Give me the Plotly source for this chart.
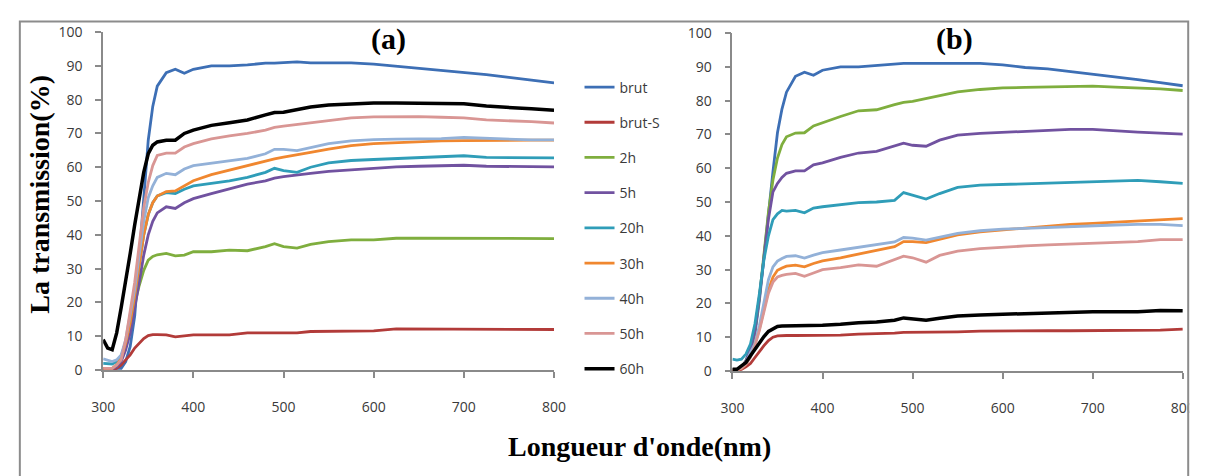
import plotly.graph_objects as go

WL = [300, 305, 310, 315, 320, 325, 330, 335, 340, 345, 350, 355, 360, 370, 380, 390, 400,
      420, 440, 460, 480, 490, 500, 515, 530, 550, 575, 600, 625, 650, 675, 700, 725, 750, 775, 800]

NAMES = ["brut", "brut-S", "2h", "5h", "20h", "30h", "40h", "50h", "60h"]
COLORS = ["#3d6fb5", "#b23b39", "#7fae3e", "#7152a0", "#2f9db8", "#f0872f", "#93b1d8", "#d99694", "#000000"]

# Panel (a)
A_BRUT = [0.5, 0.5, 0.5, 0.5, 0.5, 2.5, 7, 16, 33, 52, 68, 78, 84, 88, 89, 87.8, 89, 90, 90, 90.3, 90.8,
          90.8, 90.9, 91.2, 90.9, 90.9, 90.9, 90.5, 89.9, 89.2, 88.7, 88.1, 87.4, 86.6, 85.8, 85]
A_BRUTS = [0, 0, 0, 0.5, 1.5, 3, 4.5, 6.5, 8, 9.3, 10.2, 10.5, 10.5, 10.4, 9.8, 10.2, 10.4, 10.4, 10.4, 11, 11,
           11, 11, 11, 11.4, 11.4, 11.5, 11.6, 12.2, 12.2, 12.2, 12.2, 12.1, 12.1, 12, 12]
A_2H = [0, 0, 0.3, 1.5, 4, 8, 14, 20, 25, 29.5, 32.5, 33.6, 34.1, 34.5, 33.8, 34, 35, 35, 35.5, 35.3, 36.5,
        37.4, 36.5, 36.1, 37.2, 38, 38.5, 38.5, 39, 39, 39, 39, 39, 39, 38.8, 38.9]
A_5H = [0, 0, 0.3, 1, 2.5, 6, 11, 18, 26, 34, 40, 44, 46.5, 48.3, 47.8, 49.5, 50.7, 52.2, 53.5, 55, 56,
        56.8, 57.2, 57.8, 58.2, 58.8, 59.3, 59.7, 60.1, 60.3, 60.5, 60.6, 60.3, 60.2, 60.1, 60.1]
A_20H = [2, 1.8, 1.8, 2.5, 4, 8.5, 14.5, 22, 31, 40, 46, 49.5, 51.5, 52.5, 52.2, 53.5, 54.5, 55.2, 56, 57, 58.5,
         59.7, 59, 58.5, 60, 61.3, 62, 62.3, 62.6, 62.8, 63, 63.4, 62.9, 62.8, 62.8, 62.8]
A_30H = [0.5, 0.5, 0.5, 1.5, 3.5, 8, 14, 22, 31, 40, 46, 49.5, 51.5, 52.8, 53, 54.5, 56, 57.8, 59.2, 60.5, 62,
         62.5, 63, 63.8, 64.4, 65.4, 66.4, 67, 67.3, 67.7, 67.8, 67.9, 68, 68, 68, 68]
A_40H = [3.3, 2.8, 2.5, 3, 4.5, 9, 16, 24, 34, 44, 51, 54.5, 57, 58.2, 57.8, 59.5, 60.5, 61.2, 62, 62.6, 64,
         65.3, 65.3, 64.9, 65.8, 67, 67.8, 68.2, 68.3, 68.3, 68.5, 68.8, 68.5, 68.2, 68.1, 68.1]
A_50H = [0.5, 0.5, 0.5, 1.5, 3, 9, 17, 26, 37, 48, 55.5, 60.5, 63.5, 64.2, 64.2, 66, 67, 68.4, 69.3, 70, 71,
         71.8, 72.2, 72.7, 73.2, 73.8, 74.6, 74.9, 75, 75, 74.8, 74.6, 74, 73.8, 73.5, 73.1]
A_60H = [9, 6.5, 6, 11, 18.5, 26, 34.5, 43, 51.5, 58.5, 64, 66.5, 67.5, 68, 68, 70, 71, 72.4, 73.2, 74, 75.5,
         76.2, 76.3, 77, 77.8, 78.4, 78.8, 79, 79, 79, 79, 78.8, 78.1, 77.8, 77.3, 76.9]

# Panel (b)
B_BRUT = [0.5, 0.5, 1, 2.5, 6, 11, 21, 34, 46, 59, 70.5, 77.5, 82.5, 87.2, 88.4, 87.5, 89, 90, 90, 90.4, 90.9,
          91, 91, 91, 91, 91, 91, 90.6, 89.8, 89.4, 88.6, 87.9, 87.2, 86.2, 85.3, 84.4]
B_BRUTS = [0, 0.2, 0.5, 1.2, 2.2, 4, 5.8, 7.5, 9, 10, 10.4, 10.5, 10.5, 10.5, 10.5, 10.5, 10.5, 10.6, 10.9, 11, 11.2,
           11.4, 11.4, 11.5, 11.5, 11.6, 11.8, 11.9, 11.9, 11.9, 11.9, 11.9, 11.9, 11.9, 12.1, 12.4]
B_2H = [0.5, 0.5, 1, 3, 6.5, 12, 22, 34, 47, 56.5, 63, 67, 69.3, 70.4, 70.5, 72.5, 73.5, 75.3, 77, 77.3, 78.8,
        79.5, 79.8, 80.7, 81.5, 82.6, 83.3, 83.8, 83.9, 84, 84.3, 84.3, 84, 83.8, 83.5, 83]
B_5H = [0.3, 0.3, 1, 3, 6.5, 12, 22, 34, 45, 53, 55.5, 57.3, 58.5, 59.2, 59.2, 61, 61.6, 63.2, 64.5, 65, 66.5,
        67.4, 66.8, 66.5, 68.3, 69.8, 70.3, 70.6, 70.8, 71, 71.5, 71.5, 71, 70.7, 70.4, 70.1]
B_20H = [3.5, 3.2, 3.5, 5, 8, 14, 23, 33, 40, 44.8, 46.5, 47.5, 47.3, 47.5, 46.8, 48.2, 48.6, 49.2, 49.8, 50, 50.5,
         52.8, 52, 50.9, 52.5, 54.3, 55, 55.2, 55.4, 55.7, 55.8, 56.1, 56.4, 56.4, 56, 55.5]
B_30H = [0.3, 0.3, 0.8, 2, 4.5, 8, 12.5, 18, 24, 27.8, 29.8, 30.5, 31, 31.3, 30.8, 31.8, 32.6, 33.5, 34.6, 35.5, 36.8,
         38.3, 38.3, 38, 39, 40.3, 41.2, 41.8, 42.4, 43, 43.4, 43.7, 44.1, 44.4, 44.8, 45.1]
B_40H = [0.5, 0.5, 1, 2.5, 5.5, 8, 13.5, 20, 27, 30.8, 32.5, 33.3, 33.9, 34.1, 33.4, 34.3, 35, 35.8, 36.6, 37.2, 38.2,
         39.5, 39.3, 38.7, 39.6, 40.7, 41.5, 42, 42.2, 42.5, 42.7, 43, 43.2, 43.4, 43.4, 43]
B_50H = [0.3, 0.3, 0.8, 2, 4, 7.5, 12, 17.5, 23, 26.3, 27.8, 28.3, 28.6, 28.9, 28, 29, 30, 30.6, 31.4, 31, 33,
         34, 33.5, 32.2, 34.2, 35.5, 36.2, 36.7, 37, 37.3, 37.6, 37.8, 38.1, 38.3, 38.9, 38.9]
B_60H = [0.5, 0.5, 1.5, 2.5, 4.5, 6.5, 8.5, 10.2, 11.7, 12.6, 13.2, 13.3, 13.3, 13.3, 13.3, 13.4, 13.5, 13.8, 14.3, 14.5, 15,
         15.7, 15.4, 15, 15.6, 16.3, 16.6, 16.8, 17, 17.1, 17.4, 17.5, 17.5, 17.5, 17.9, 17.8]

X_TICKS = [300, 400, 500, 600, 700, 800]
Y_TICKS = [0, 10, 20, 30, 40, 50, 60, 70, 80, 90, 100]

PANEL_A = [A_BRUT, A_BRUTS, A_2H, A_5H, A_20H, A_30H, A_40H, A_50H, A_60H]
PANEL_B = [B_BRUT, B_BRUTS, B_2H, B_5H, B_20H, B_30H, B_40H, B_50H, B_60H]

W, H = 1210, 476

fig = go.Figure()
for i, (name, ys) in enumerate(zip(NAMES, PANEL_A)):
    fig.add_trace(go.Scatter(x=WL, y=ys, name=name, mode="lines", legendgroup=name,
                             line=dict(color=COLORS[i], width=3.5 if name == "60h" else 2.8),
                             xaxis="x", yaxis="y"))
for i, (name, ys) in enumerate(zip(NAMES, PANEL_B)):
    fig.add_trace(go.Scatter(x=WL, y=ys, name=name, mode="lines", legendgroup=name, showlegend=False,
                             line=dict(color=COLORS[i], width=3.5 if name == "60h" else 2.8),
                             xaxis="x2", yaxis="y2"))

tickfont = dict(family="Open Sans, Liberation Sans, sans-serif", size=14, color="#3a3a3a")
axcommon = dict(showgrid=False, zeroline=False, showline=True, linecolor="#8a8a8a", linewidth=1.5,
                ticks="outside", ticklen=6, tickcolor="#8a8a8a", tickwidth=1.5, tickfont=tickfont)

fig.update_layout(
    width=W, height=H, margin=dict(l=0, r=0, t=0, b=0),
    paper_bgcolor="white", plot_bgcolor="white",
    xaxis=dict(domain=[93 / W, 553 / W], range=[300, 800], tickvals=X_TICKS, anchor="y",
               ticklabelstandoff=17, **axcommon),
    yaxis=dict(domain=[(H - 375) / H, (H - 23) / H], range=[0, 100], tickvals=Y_TICKS, anchor="x",
               ticklabelstandoff=10, **axcommon),
    xaxis2=dict(domain=[735 / W, 1194.5 / W], range=[300, 800], tickvals=X_TICKS, anchor="y2",
                ticklabelstandoff=17, **axcommon),
    yaxis2=dict(domain=[(H - 376) / H, (H - 24) / H], range=[0, 100], tickvals=Y_TICKS, anchor="x2",
                ticklabelstandoff=10, **axcommon),
    legend=dict(x=579 / W, y=(H - 64) / H, xanchor="left", yanchor="top", tracegroupgap=14,
                font=dict(family="Open Sans, Liberation Sans, sans-serif", size=14, color="#3a3a3a"),
                bgcolor="rgba(0,0,0,0)"),
    showlegend=True,
)

serif = "Liberation Serif, Times New Roman, serif"
fig.add_annotation(text="<b>(a)</b>", x=384 / W, y=(H - 30) / H, xref="paper", yref="paper",
                   xanchor="center", yanchor="middle",
                   showarrow=False, font=dict(family=serif, size=30, color="black"))
fig.add_annotation(text="<b>(b)</b>", x=962 / W, y=(H - 30) / H, xref="paper", yref="paper",
                   xanchor="center", yanchor="middle",
                   showarrow=False, font=dict(family=serif, size=30, color="black"))
fig.add_annotation(text="<b>Longueur d'onde(nm)</b>", x=640 / W, y=(H - 455) / H, xref="paper", yref="paper",
                   xanchor="center", yanchor="middle",
                   showarrow=False, font=dict(family=serif, size=28, color="black"))
fig.add_annotation(text="<b>La transmission(%)</b>", x=28 / W, y=(H - 192) / H, xref="paper", yref="paper",
                   xanchor="center", yanchor="middle",
                   showarrow=False, textangle=-90, font=dict(family=serif, size=28, color="black"))

# white strip clipping the chart at the right edge, then the outer frame
fig.add_shape(type="rect", xref="paper", yref="paper", x0=1201 / W, x1=1.0, y0=0, y1=1,
              line=dict(width=0), fillcolor="white", layer="above")
fig.add_shape(type="rect", xref="paper", yref="paper", x0=8 / W, x1=1200 / W, y0=-0.05, y1=(H - 12) / H,
              line=dict(color="#8c8c8c", width=2), fillcolor="rgba(0,0,0,0)", layer="above")

fig.write_html("out.html", config={"displayModeBar": False},
               post_script="document.body.style.margin='0px';document.body.style.overflow='hidden';")
